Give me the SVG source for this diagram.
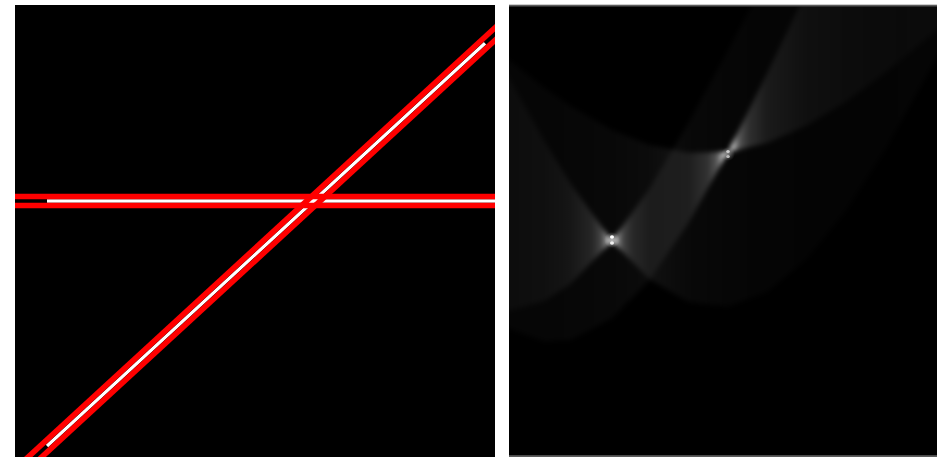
<svg xmlns="http://www.w3.org/2000/svg" width="937" height="457" viewBox="0 0 937 457">
<defs>
<style>
.red{stroke:#ff0000;stroke-width:5.6;fill:none}
.wht{stroke:#ffffff;stroke-width:3.4;fill:none}
</style>
<clipPath id="clipL"><rect x="15" y="5" width="480" height="452"/></clipPath>
<clipPath id="clipR"><rect x="509" y="6.5" width="428" height="448.7"/></clipPath>
<filter id="soft" filterUnits="userSpaceOnUse" x="495" y="-270" width="460" height="740"><feGaussianBlur stdDeviation="2.4"/></filter>
<linearGradient id="gH" gradientUnits="userSpaceOnUse" x1="500" y1="0" x2="945" y2="0">
<stop offset="0" stop-color="#fff" stop-opacity="0.023"/>
<stop offset="0.0996" stop-color="#fff" stop-opacity="0.024"/>
<stop offset="0.1587" stop-color="#fff" stop-opacity="0.026"/>
<stop offset="0.2517" stop-color="#fff" stop-opacity="0.032"/>
<stop offset="0.3355" stop-color="#fff" stop-opacity="0.045"/>
<stop offset="0.4238" stop-color="#fff" stop-opacity="0.086"/>
<stop offset="0.4674" stop-color="#fff" stop-opacity="0.17"/>
<stop offset="0.4899" stop-color="#fff" stop-opacity="0.34"/>
<stop offset="0.5011" stop-color="#fff" stop-opacity="0.8"/>
<stop offset="0.5236" stop-color="#fff" stop-opacity="0.8"/>
<stop offset="0.5348" stop-color="#fff" stop-opacity="0.34"/>
<stop offset="0.5573" stop-color="#fff" stop-opacity="0.17"/>
<stop offset="0.6009" stop-color="#fff" stop-opacity="0.086"/>
<stop offset="0.6892" stop-color="#fff" stop-opacity="0.045"/>
<stop offset="0.7778" stop-color="#fff" stop-opacity="0.032"/>
<stop offset="0.8661" stop-color="#fff" stop-opacity="0.026"/>
<stop offset="1" stop-color="#fff" stop-opacity="0.023"/>
</linearGradient>
<linearGradient id="gD" gradientUnits="userSpaceOnUse" x1="500" y1="0" x2="945" y2="0">
<stop offset="0" stop-color="#fff" stop-opacity="0.024"/>
<stop offset="0.0996" stop-color="#fff" stop-opacity="0.038"/>
<stop offset="0.1587" stop-color="#fff" stop-opacity="0.06"/>
<stop offset="0.2067" stop-color="#fff" stop-opacity="0.124"/>
<stop offset="0.2292" stop-color="#fff" stop-opacity="0.25"/>
<stop offset="0.2404" stop-color="#fff" stop-opacity="0.6"/>
<stop offset="0.2517" stop-color="#fff" stop-opacity="0.85"/>
<stop offset="0.2629" stop-color="#fff" stop-opacity="0.6"/>
<stop offset="0.2742" stop-color="#fff" stop-opacity="0.25"/>
<stop offset="0.2966" stop-color="#fff" stop-opacity="0.124"/>
<stop offset="0.3355" stop-color="#fff" stop-opacity="0.067"/>
<stop offset="0.4238" stop-color="#fff" stop-opacity="0.034"/>
<stop offset="0.5124" stop-color="#fff" stop-opacity="0.024"/>
<stop offset="0.6009" stop-color="#fff" stop-opacity="0.019"/>
<stop offset="0.6892" stop-color="#fff" stop-opacity="0.017"/>
<stop offset="0.7778" stop-color="#fff" stop-opacity="0.016"/>
<stop offset="0.8661" stop-color="#fff" stop-opacity="0.017"/>
<stop offset="1" stop-color="#fff" stop-opacity="0.02"/>
</linearGradient>
<radialGradient id="glow">
<stop offset="0" stop-color="#fff" stop-opacity="0.5"/>
<stop offset="1" stop-color="#fff" stop-opacity="0"/>
</radialGradient>
</defs>
<rect width="937" height="457" fill="#ffffff"/>
<g id="image-lines" clip-path="url(#clipL)">
<rect x="15" y="5" width="480" height="452" fill="#000"/>
<line class="wht" x1="47" y1="201" x2="500" y2="201"/>
<line class="wht" x1="47" y1="446" x2="485" y2="43.2"/>
<line class="red" x1="10" y1="196.5" x2="500" y2="196.5"/>
<line class="red" x1="10" y1="205.5" x2="500" y2="205.5"/>
<line class="red" x1="28.1" y1="469.6" x2="508.1" y2="28.2"/>
<line class="red" x1="21.9" y1="462.8" x2="501.9" y2="21.4"/>
</g>
<g id="hough-accumulator">
<rect x="509" y="5" width="428" height="451" fill="#000"/>
<g clip-path="url(#clipR)">
<g filter="url(#soft)">
<path id="fan-horizontal" fill="url(#gH)" d="M500,52.7 L508.9,60 L544.3,87.7 L570.6,106.1 L612,130 L649.3,144.9 L688.6,152.8 L728,152 L767.4,142.7 L806.7,125.5 L846.1,101.5 L885.4,72.5 L936.1,30.8 L945,23.2 L945,-244.7 L936.1,-234.7 L885.4,-161.4 L846.1,-89.4 L806.7,-9.5 L767.4,72.8 L728,152 L688.6,222.7 L649.3,280 L612,318.3 L570.6,340 L544.3,341.5 L508.9,328.4 L500,322.4 Z"/>
<path id="fan-diagonal" fill="url(#gD)" d="M500,61.6 L508.9,78.1 L544.3,141 L570.6,183.8 L612,241.1 L649.3,278.9 L688.6,302.1 L728,306.5 L767.4,291.7 L806.7,258.9 L846.1,210.3 L885.4,149.2 L936.1,58.9 L945,42.3 L945,-251.6 L936.1,-247.6 L885.4,-207 L846.1,-157 L806.7,-94.7 L767.4,-23.9 L728,50.2 L688.6,122.8 L649.3,188.8 L612,241.1 L570.6,283.8 L544.3,300.9 L508.9,310.8 L500,310.8 Z"/>
</g>
<g id="peak-1">
<circle cx="612" cy="240" r="8" fill="url(#glow)"/>
<ellipse cx="612" cy="237" rx="2" ry="1.8" fill="#fff"/>
<ellipse cx="612" cy="243" rx="2" ry="1.8" fill="#eeeeee"/>
</g>
<g id="peak-2">
<circle cx="728" cy="154" r="7" fill="url(#glow)" opacity="0.7"/>
<ellipse cx="728" cy="151.5" rx="1.8" ry="1.6" fill="#cccccc"/>
<ellipse cx="728" cy="156.5" rx="1.8" ry="1.6" fill="#bbbbbb"/>
</g>
</g>
<rect x="509" y="4.7" width="428" height="1.8" fill="#5c5c5c"/>
<rect x="509" y="455.2" width="428" height="1.8" fill="#5c5c5c"/>
</g>
</svg>
